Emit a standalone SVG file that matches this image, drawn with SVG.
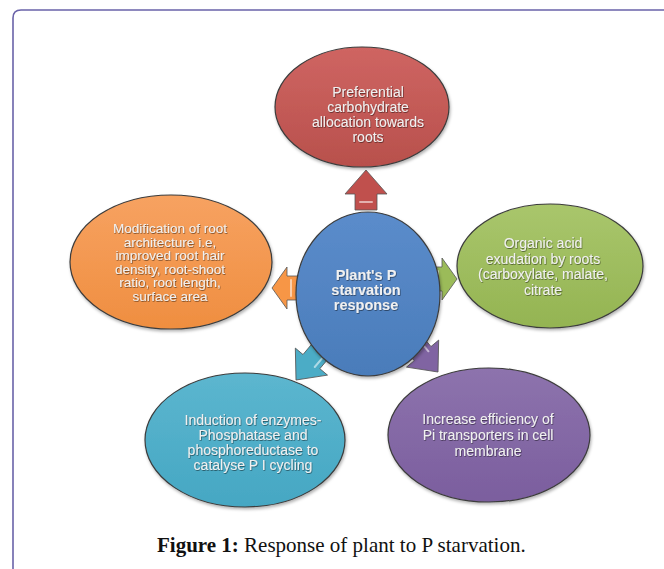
<svg xmlns="http://www.w3.org/2000/svg" width="664" height="569" viewBox="0 0 664 569">
<style>
.node{stroke:#3c3c3c;stroke-width:1.2}
.arrow{stroke:#555;stroke-width:0.8}
.lbl{font-family:"Liberation Sans",Arial,sans-serif;font-size:14px;fill:#f0f0f0;text-anchor:middle;filter:url(#ts)}
.ctr{font-family:"Liberation Sans",Arial,sans-serif;font-size:14.5px;font-weight:bold;fill:#f0f0f0;text-anchor:middle;filter:url(#ts)}
.cap{font-family:"Liberation Serif","Times New Roman",serif;font-size:21px;fill:#111}
.hl{stroke:#ffffff;stroke-opacity:0.55;stroke-width:2;stroke-linecap:round;fill:none}
</style>
<defs>
<filter id="ts" x="-10%" y="-20%" width="120%" height="140%"><feDropShadow dx="0.6" dy="0.8" stdDeviation="0.5" flood-color="#000" flood-opacity="0.55"/></filter>
<filter id="sh" x="-10%" y="-10%" width="125%" height="125%"><feDropShadow dx="1" dy="2" stdDeviation="1.5" flood-color="#000" flood-opacity="0.3"/></filter>
<linearGradient id="gRed" x1="0" y1="0" x2="0" y2="1"><stop offset="0" stop-color="#cf6562"/><stop offset="1" stop-color="#b8504c"/></linearGradient>
<linearGradient id="gOra" x1="0" y1="0" x2="0" y2="1"><stop offset="0" stop-color="#f7a261"/><stop offset="1" stop-color="#ef8e40"/></linearGradient>
<linearGradient id="gGrn" x1="0" y1="0" x2="0" y2="1"><stop offset="0" stop-color="#a9c66c"/><stop offset="1" stop-color="#94b452"/></linearGradient>
<linearGradient id="gCya" x1="0" y1="0" x2="0" y2="1"><stop offset="0" stop-color="#5cb6cf"/><stop offset="1" stop-color="#45a7c3"/></linearGradient>
<linearGradient id="gPur" x1="0" y1="0" x2="0" y2="1"><stop offset="0" stop-color="#8d73ad"/><stop offset="1" stop-color="#7b5e9e"/></linearGradient>
<linearGradient id="gBlu" x1="0" y1="0" x2="0" y2="1"><stop offset="0" stop-color="#5b8ccb"/><stop offset="1" stop-color="#4a7cba"/></linearGradient>
<path id="blk" d="M0,0 L-24,-21 L-24,-11 L-40,-11 L-40,11 L-24,11 L-24,21 Z"/>
<path id="blkS" d="M0,0 L-15,-21 L-15,-12 L-34,-12 L-34,12 L-15,12 L-15,21 Z"/>
</defs>
<rect width="664" height="569" fill="#ffffff"/>
<path d="M13,569 V18 Q13,10 21,10 H664" fill="none" stroke="#6a63a9" stroke-width="1.6"/>

<g id="connectors">
<g transform="translate(366,170) rotate(-90)"><use href="#blk" class="arrow" fill="#c0504d"/><path class="hl" d="M-32,-6 L-32,6"/></g>
<g transform="translate(272,288) rotate(180)"><use href="#blkS" class="arrow" fill="#f79646"/><path class="hl" d="M-19,-8 L-19,8"/></g>
<g transform="translate(457,279)"><use href="#blkS" class="arrow" fill="#9bbb59"/><path class="hl" d="M-19,-8 L-19,8"/></g>
<g transform="translate(296,380) rotate(130)"><use href="#blk" class="arrow" fill="#4bacc6"/><path class="hl" d="M-34,-6 L-22,-6"/></g>
<g transform="translate(438,372) rotate(50)"><use href="#blk" class="arrow" fill="#8064a2"/><path class="hl" d="M-34,-6 L-22,-6"/></g>
</g>

<g id="center">
<ellipse cx="368" cy="294" rx="72" ry="82" fill="url(#gBlu)" class="node" filter="url(#sh)"/>
<text class="ctr" x="366" y="280">Plant's P</text>
<text class="ctr" x="366" y="295">starvation</text>
<text class="ctr" x="366" y="310">response</text>
</g>

<g id="carbohydrate">
<ellipse cx="362" cy="107" rx="87" ry="60" fill="url(#gRed)" class="node" filter="url(#sh)"/>
<text class="lbl" x="368" y="97">Preferential</text>
<text class="lbl" x="368" y="112">carbohydrate</text>
<text class="lbl" x="368" y="127">allocation towards</text>
<text class="lbl" x="368" y="142">roots</text>
</g>

<g id="root-architecture">
<ellipse cx="171" cy="262" rx="101" ry="67" fill="url(#gOra)" class="node" filter="url(#sh)"/>
<text class="lbl" x="170" y="233" style="font-size:13.5px">Modification of root</text>
<text class="lbl" x="170" y="246.5" style="font-size:13.5px">architecture i.e,</text>
<text class="lbl" x="170" y="260" style="font-size:13.5px">improved root hair</text>
<text class="lbl" x="170" y="273.5" style="font-size:13.5px">density, root-shoot</text>
<text class="lbl" x="170" y="287" style="font-size:13.5px">ratio, root length,</text>
<text class="lbl" x="170" y="300.5" style="font-size:13.5px">surface area</text>
</g>

<g id="organic-acid">
<ellipse cx="550" cy="266" rx="93" ry="62" fill="url(#gGrn)" class="node" filter="url(#sh)"/>
<text class="lbl" x="543" y="248">Organic acid</text>
<text class="lbl" x="543" y="264">exudation by roots</text>
<text class="lbl" x="543" y="279">(carboxylate, malate,</text>
<text class="lbl" x="543" y="295">citrate</text>
</g>

<g id="enzymes">
<ellipse cx="245" cy="440" rx="100" ry="67" fill="url(#gCya)" class="node" filter="url(#sh)"/>
<text class="lbl" x="253" y="425">Induction of enzymes-</text>
<text class="lbl" x="253" y="440">Phosphatase and</text>
<text class="lbl" x="253" y="455">phosphoreductase to</text>
<text class="lbl" x="253" y="470">catalyse P I  cycling</text>
</g>

<g id="transporters">
<ellipse cx="489" cy="435" rx="101" ry="67" fill="url(#gPur)" class="node" filter="url(#sh)"/>
<text class="lbl" x="488" y="424">Increase efficiency of</text>
<text class="lbl" x="488" y="440">Pi transporters in cell</text>
<text class="lbl" x="488" y="456">membrane</text>
</g>

<text class="cap" x="157" y="552"><tspan font-weight="bold">Figure 1:</tspan> Response of plant to P starvation.</text>
</svg>
